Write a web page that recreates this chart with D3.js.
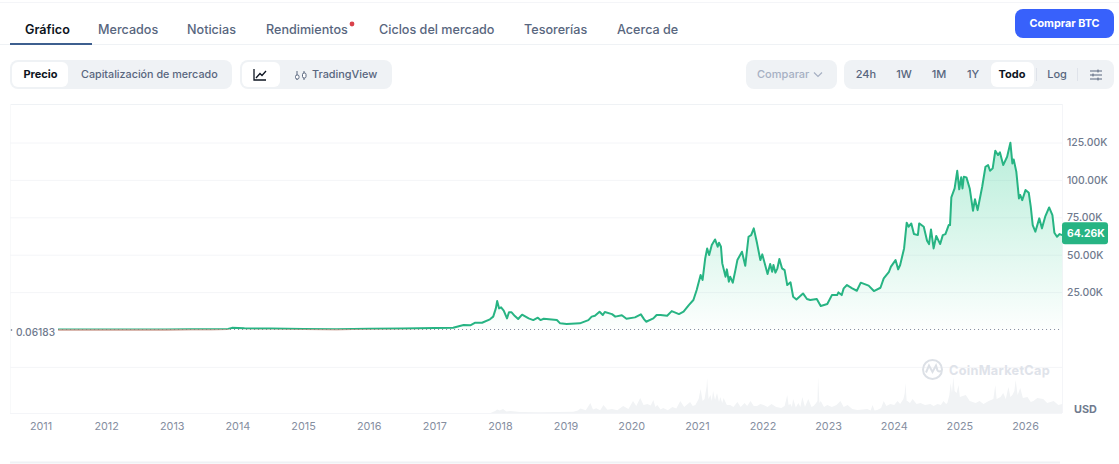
<!DOCTYPE html>
<html>
  <head>
    <meta charset="utf-8">
    <title>Bitcoin</title>
    <style media="screen">
    body{margin: 0; background: #fff}
    svg{display: block}
    text{font-family: Inter, "Noto Sans", sans-serif}
    </style>
  </head>
  <body>
    <script src="https://d3js.org/d3.v7.min.js"></script>
    <script type="text/javascript">
      var w = 1119, h = 464;

      // price in thousands of USD
      var priceYears = [2011.26, 2011.45, 2011.8, 2012.3, 2012.9, 2013.28, 2013.6, 2013.85, 2013.91, 2014.1, 2014.5, 2015, 2015.5, 2016, 2016.5, 2017, 2017.28,
        2017.38, 2017.44, 2017.54, 2017.61, 2017.72, 2017.84, 2017.89, 2017.93, 2017.95, 2017.98, 2018.01, 2018.05, 2018.10, 2018.13, 2018.17, 2018.22, 2018.27, 2018.33, 2018.43, 2018.50, 2018.57, 2018.61, 2018.66, 2018.86, 2018.91,
        2019.01, 2019.21, 2019.34, 2019.39, 2019.44, 2019.51, 2019.56, 2019.59, 2019.70, 2019.75, 2019.85, 2019.92,
        2020.05, 2020.14, 2020.19, 2020.22, 2020.33, 2020.38, 2020.44, 2020.54, 2020.61, 2020.72, 2020.79, 2020.87, 2020.94, 2020.99,
        2021.05, 2021.08, 2021.12, 2021.15, 2021.18, 2021.22, 2021.27, 2021.31, 2021.33, 2021.36, 2021.38, 2021.43, 2021.45, 2021.48, 2021.50, 2021.54, 2021.58, 2021.61, 2021.68, 2021.73, 2021.78, 2021.82, 2021.86, 2021.91, 2021.96, 2021.99,
        2022.07, 2022.11, 2022.14, 2022.16, 2022.19, 2022.22, 2022.25, 2022.29, 2022.33, 2022.37, 2022.42, 2022.46, 2022.51, 2022.61, 2022.67, 2022.72, 2022.82, 2022.88, 2022.98,
        2023.05, 2023.13, 2023.15, 2023.20, 2023.23, 2023.28, 2023.36, 2023.43, 2023.49, 2023.61, 2023.69, 2023.79, 2023.84, 2023.92, 2023.95,
        2024.02, 2024.06, 2024.09, 2024.15, 2024.19, 2024.22, 2024.26, 2024.30, 2024.36, 2024.38, 2024.45, 2024.50, 2024.53, 2024.56, 2024.60, 2024.64, 2024.70, 2024.74, 2024.78, 2024.83, 2024.85, 2024.87, 2024.92, 2024.96, 2024.99,
        2025.02, 2025.04, 2025.06, 2025.10, 2025.15, 2025.20, 2025.23, 2025.27, 2025.34, 2025.39, 2025.43, 2025.46, 2025.50, 2025.54, 2025.58, 2025.61, 2025.66, 2025.72, 2025.77, 2025.80, 2025.82, 2025.86, 2025.90, 2025.92, 2025.95,
        2026.0, 2026.05, 2026.08, 2026.11, 2026.15, 2026.21, 2026.25, 2026.30, 2026.36, 2026.41, 2026.44, 2026.48, 2026.52, 2026.56];
      var priceValues = [0.02, 0.03, 0.01, 0.02, 0.02, 0.14, 0.1, 0.4, 1.1, 0.8, 0.6, 0.3, 0.25, 0.43, 0.65, 0.95, 1.2,
        2.3, 3, 2.8, 4.5, 4.5, 6.8, 8.6, 14.1, 19, 14.1, 14.8, 12.6, 7.4, 11.5, 11.5, 9, 7, 9.9, 7.4, 6.3, 7.9, 6.3, 7.2, 6.3, 4.1,
        3.7, 4.1, 6.3, 8.6, 9.2, 11.9, 9.7, 11.7, 10.3, 8.6, 9.5, 7.2,
        8.1, 10.1, 6.8, 5.2, 7.4, 9.7, 9.7, 9.2, 12.3, 10.3, 11.9, 16.3, 19.7, 26.4,
        36.4, 33.1, 47.5, 54.2, 49.8, 56.5, 60.2, 55.3, 58, 55.3, 44.2, 35.3, 40.2, 32, 35.3, 31.3, 39.7, 46.4, 52, 42.6, 62, 63.1, 67.6, 57.6, 46.4, 50.2,
        37.1, 43.8, 38.6, 43.1, 38, 40.9, 47.1, 40.9, 39.7, 29.7, 31.5, 21.9, 20.1, 24.1, 20.4, 19.7, 20.4, 15.7, 17,
        23, 23, 24.8, 23, 27.5, 29.7, 27.5, 25.9, 31.3, 29.3, 25.7, 27.9, 34.2, 38.6, 42,
        46.4, 40.2, 43.1, 54.2, 71.4, 68.7, 70.9, 63.8, 63.1, 70.9, 68.7, 59.3, 57.1, 66.9, 54.2, 62.5, 57.1, 63.1, 63.8, 69.8, 69.8, 88.3, 94.3, 106.1, 93.7,
        101.7, 94.3, 102.1, 101.7, 94.3, 79.4, 87, 79.8, 95.4, 108.8, 109.9, 106.1, 107.7, 119.5, 116.6, 118.4, 109.9, 115.5, 124.8, 111, 113.7, 105.5, 87.6, 89.9, 86.5,
        93.2, 91.4, 82.1, 69.8, 65.4, 74.3, 67.6, 75.4, 81.6, 76.5, 64.7, 62, 63.8, 63.1];

      // volume in billions of USD, estimated from the grey spikes at the bottom
      var volumeYears = [2017.85, 2017.92, 2017.95, 2017.99, 2018.04, 2018.09, 2018.15, 2018.3, 2018.61,
        2019.11, 2019.18, 2019.22, 2019.3, 2019.37, 2019.41, 2019.46, 2019.52, 2019.57, 2019.63, 2019.70, 2019.78, 2019.87, 2019.95,
        2020.02, 2020.07, 2020.13, 2020.18, 2020.24, 2020.29, 2020.33, 2020.36, 2020.39, 2020.44, 2020.48, 2020.55, 2020.62, 2020.68, 2020.74, 2020.8, 2020.89, 2020.93, 2020.97,
        2021.02, 2021.05, 2021.08, 2021.11, 2021.14, 2021.15, 2021.17, 2021.20, 2021.22, 2021.24, 2021.27, 2021.30, 2021.33, 2021.35, 2021.38, 2021.40, 2021.45, 2021.50, 2021.55, 2021.61, 2021.66, 2021.72, 2021.76, 2021.81, 2021.86, 2021.91, 2021.96,
        2022.01, 2022.07, 2022.13, 2022.20, 2022.28, 2022.33, 2022.37, 2022.39, 2022.42, 2022.44, 2022.46, 2022.50, 2022.54, 2022.57, 2022.60, 2022.64, 2022.69, 2022.74, 2022.77, 2022.81, 2022.83, 2022.84, 2022.86, 2022.88, 2022.93, 2022.98,
        2023.05, 2023.12, 2023.18, 2023.23, 2023.29, 2023.36, 2023.44, 2023.52, 2023.59, 2023.64, 2023.67, 2023.70, 2023.74, 2023.80, 2023.84, 2023.88, 2023.94,
        2024.0, 2024.05, 2024.09, 2024.14, 2024.16, 2024.17, 2024.19, 2024.20, 2024.24, 2024.28, 2024.34, 2024.40, 2024.47, 2024.55, 2024.60, 2024.66, 2024.71, 2024.75, 2024.79, 2024.81, 2024.84, 2024.86, 2024.88, 2024.90, 2024.92, 2024.95, 2024.98,
        2025.0, 2025.09, 2025.15, 2025.24, 2025.3, 2025.36, 2025.44, 2025.51, 2025.54, 2025.56, 2025.62, 2025.66, 2025.70, 2025.74, 2025.77, 2025.80, 2025.83, 2025.85, 2025.88, 2025.92, 2025.96,
        2026.03, 2026.08, 2026.12, 2026.18, 2026.27, 2026.33, 2026.43, 2026.5, 2026.56];
      var volumeValues = [0, 10, 18, 12, 20, 8, 10, 5, 4,
        6, 12, 22, 14, 50, 18, 24, 14, 40, 16, 20, 14, 35, 20,
        60, 35, 75, 40, 45, 38, 65, 30, 40, 18, 25, 14, 30, 22, 60, 30, 55, 35, 40,
        70, 120, 60, 70, 130, 175, 70, 90, 60, 110, 65, 100, 55, 80, 50, 75, 40, 40, 30, 55, 30, 50, 35, 60, 35, 35, 45,
        40, 30, 45, 30, 25, 35, 90, 40, 45, 30, 70, 28, 50, 30, 80, 30, 70, 30, 35, 50, 60, 180, 50, 60, 30, 40,
        30, 40, 60, 30, 40, 20, 15, 18, 20, 12, 40, 12, 15, 25, 60, 35, 45,
        40, 60, 45, 70, 100, 150, 60, 60, 50, 70, 45, 50, 40, 45, 35, 45, 40, 60, 45, 50, 90, 150, 100, 180, 110, 100, 140,
        80, 90, 60, 50, 60, 45, 60, 70, 140, 70, 80, 100, 70, 130, 80, 90, 110, 165, 90, 125, 75,
        80, 55, 60, 75, 70, 50, 60, 40, 45];

      var priceTicks = [25, 50, 75, 100, 125];
      var gridTicks = [-25, 25, 50, 75, 100, 125];
      var yearTicks = d3.range(2011, 2027);
      var lastPrice = 64.26;
      var firstPrice = 0.06183 / 1000;

      var tabs = ['Gráfico', 'Mercados', 'Noticias', 'Rendimientos', 'Ciclos del mercado', 'Tesorerías', 'Acerca de'];
      var tabStarts = [25, 98, 187, 266, 379, 524, 617];
      var ranges = ['24h', '1W', '1M', '1Y', 'Todo', 'Log'];
      var rangeCenters = [866, 904, 939, 973, 1012, 1057];

      var green = '#27b483', red = '#ea3943', grey = '#58667e', soft = '#6f7a8e', panel = '#eff2f5', faint = '#f4f5f8';

      var x = d3.scaleLinear().domain([2011, 2026]).range([41, 1025.5]);
      var y = d3.scaleLinear().domain([0, 125]).range([329.5, 142.5]);
      var yVol = d3.scaleLinear().domain([0, 180]).range([413, 377]);

      var svg = d3.select('body').append('svg')
        .attr('width', w)
        .attr('height', h)

      function box(x0, y0, x1, y1, fill, r){
        return svg.append('rect')
          .attr('x', x0).attr('y', y0)
          .attr('width', x1 - x0).attr('height', y1 - y0)
          .attr('rx', r).attr('fill', fill)
      }
      function rule(x0, y0, x1, y1, color, width){
        return svg.append('line')
          .attr('x1', x0).attr('y1', y0).attr('x2', x1).attr('y2', y1)
          .attr('stroke', color).attr('stroke-width', width)
      }
      function label(str, px, py, size, weight, color, anchor){
        return svg.append('text')
          .attr('x', px).attr('y', py)
          .attr('dominant-baseline', 'central')
          .attr('text-anchor', anchor || 'start')
          .attr('font-size', size).attr('font-weight', weight)
          .attr('fill', color)
          .text(str)
      }
      function icon(d, color, width){
        return svg.append('path').attr('d', d).attr('fill', 'none')
          .attr('stroke', color).attr('stroke-width', width)
      }

      // header
      rule(0, 2.5, w, 2.5, faint, 1)
      rule(0, 44.5, w, 44.5, panel, 1)
      rule(10, 44, 92, 44, '#3d5f8f', 2)
      tabs.forEach(function(t, i){
        label(t, tabStarts[i], 29, 12.6, i == 0 ? 600 : 500, i == 0 ? '#0d1421' : grey)
      })
      svg.append('circle').attr('cx', 352).attr('cy', 24).attr('r', 2.4).attr('fill', '#d9414b')

      box(1015, 9, 1114, 38, '#3861fb', 8)
      label('Comprar BTC', 1064.5, 23, 10.8, 700, '#fff', 'middle')

      // toolbar
      box(10, 60, 232, 89, panel, 8)
      box(12, 62, 68, 87, '#fff', 6)
      label('Precio', 40.5, 74, 11, 700, '#0d1421', 'middle')
      label('Capitalización de mercado', 81, 74, 10.75, 500, grey)

      box(240, 60, 392, 89, panel, 8)
      box(242, 62, 280, 87, '#fff', 6)
      icon('M254 69V80H266M256 78L260 73.5L262 75.5L266 71', '#0d1421', 1.3)
      icon('M297 71V80M304 71V80', grey, 1)
      svg.append('rect').attr('x', 295.5).attr('y', 75).attr('width', 3.5).attr('height', 4).attr('rx', 1.5)
        .attr('fill', '#fff').attr('stroke', grey)
      svg.append('rect').attr('x', 302.5).attr('y', 73).attr('width', 3.5).attr('height', 5).attr('rx', 1.5)
        .attr('fill', '#fff').attr('stroke', grey)
      label('TradingView', 312, 74, 10.9, 500, grey)

      box(746, 60, 837, 89, panel, 8)
      label('Comparar', 757, 74, 11, 500, '#a6b0c3')
      icon('M814 72.5L818 76.5L822 72.5', '#a6b0c3', 1.2)

      box(844, 60, 1114, 89, panel, 8)
      box(991, 62, 1034, 87, '#fff', 6)
      ranges.forEach(function(t, i){
        label(t, rangeCenters[i], 74, 11, t == 'Todo' ? 700 : 500, t == 'Todo' ? '#0d1421' : grey, 'middle')
      })
      rule(1036.5, 68, 1036.5, 81, '#dfe3ea', 1)
      rule(1077.5, 68, 1077.5, 81, '#dfe3ea', 1)
      icon('M1090 71H1102M1090 75H1102M1090 79H1102M1098 69.5V72.5M1093 73.5V76.5M1098 77.5V80.5', grey, 1)

      // chart frame
      rule(10, 104.5, 1062, 104.5, panel, 1)
      rule(1062.5, 104, 1062.5, 413, faint, 1)
      rule(10.5, 104, 10.5, 413, '#f8f9fa', 1)
      rule(10, 413.5, 1062, 413.5, faint, 1)
      rule(10, 462.5, 1060, 462.5, panel, 2)

      // grid through the axis tick lines
      var gridG = svg.append('g').attr('transform', 'translate(1062,0)')
        .call(d3.axisLeft(y).tickValues(gridTicks).tickSize(1052).tickFormat(''))
      gridG.select('.domain').remove()
      gridG.selectAll('line').attr('stroke', faint)

      // volume
      var volumeData = volumeYears.map(function(d, i){ return {x: d, v: volumeValues[i]} })
      svg.append('path').datum(volumeData)
        .attr('fill', '#f1f3f5')
        .attr('d', d3.area()
          .x(function(d){ return x(d.x) })
          .y0(yVol(0))
          .y1(function(d){ return yVol(d.v) }))

      // watermark
      icon('M926 372.5L929 365.5L932.5 372L936 365.5L937.5 370.5Q938.5 372 941 371', '#dce0e6', 2)
      svg.append('circle').attr('cx', 932.5).attr('cy', 369.5).attr('r', 9.5)
        .attr('fill', 'none').attr('stroke', '#dce0e6').attr('stroke-width', 2)
      label('CoinMarketCap', 949, 370.5, 12.7, 700, '#dfe3ea').attr('letter-spacing', 0.3)

      // price
      var priceData = priceYears.map(function(d, i){ return {x: d, v: priceValues[i]} })

      var defs = svg.append('defs')
      var grad = defs.append('linearGradient').attr('id', 'fillUp')
        .attr('gradientUnits', 'userSpaceOnUse')
        .attr('x1', 0).attr('y1', y(125)).attr('x2', 0).attr('y2', y(0))
      grad.append('stop').attr('offset', 0).attr('stop-color', '#16c784').attr('stop-opacity', 0.3)
      grad.append('stop').attr('offset', 1).attr('stop-color', '#16c784').attr('stop-opacity', 0.01)

      defs.append('clipPath').attr('id', 'above').append('rect')
        .attr('x', 10).attr('y', 104).attr('width', 1052).attr('height', y(firstPrice) - 104)
      defs.append('clipPath').attr('id', 'below').append('rect')
        .attr('x', 10).attr('y', y(firstPrice)).attr('width', 1052).attr('height', 30)

      svg.append('path').datum(priceData)
        .attr('fill', 'url(#fillUp)')
        .attr('d', d3.area()
          .x(function(d){ return x(d.x) })
          .y0(y(0))
          .y1(function(d){ return y(d.v) }))

      var line = d3.line()
        .x(function(d){ return x(d.x) })
        .y(function(d){ return y(d.v) })

      rule(x(priceYears[0]), y(firstPrice), 1062, y(firstPrice), '#808a9d', 1).attr('stroke-dasharray', '1,3')

      svg.append('path').datum(priceData)
        .attr('fill', 'none').attr('stroke', green).attr('stroke-width', 2)
        .attr('stroke-linejoin', 'round')
        .attr('clip-path', 'url(#above)')
        .attr('d', line)
      svg.append('path').datum(priceData)
        .attr('fill', 'none').attr('stroke', '#b5705f').attr('stroke-width', 2)
        .attr('stroke-linejoin', 'round')
        .attr('clip-path', 'url(#below)')
        .attr('d', line)

      // axes
      var yAxis = svg.append('g').attr('transform', 'translate(1067,0)')
        .call(d3.axisRight(y).tickValues(priceTicks).tickSize(0).tickPadding(0)
          .tickFormat(function(d){ return d3.format('.2f')(d) + 'K' }))
      yAxis.select('.domain').remove()
      yAxis.selectAll('text')
        .attr('font-family', null).attr('font-size', 10.4).attr('font-weight', 500).attr('fill', soft)

      var xAxis = svg.append('g').attr('transform', 'translate(0,419)')
        .call(d3.axisBottom(x).tickValues(yearTicks).tickSize(0).tickPadding(3).tickFormat(d3.format('d')))
      xAxis.select('.domain').remove()
      xAxis.selectAll('text')
        .attr('font-family', null).attr('font-size', 10.8).attr('font-weight', 400).attr('fill', '#858e9f')
        .attr('dx', -0.5)

      // labels on the axes
      box(1062, y(lastPrice) - 11, 1108, y(lastPrice) + 11, green, 3)
      label(lastPrice.toFixed(2) + 'K', 1067, y(lastPrice), 10.4, 700, '#fff')
      label(String(0.06183), 16, 332, 10.2, 500, soft)
      svg.append('circle').attr('cx', 11.5).attr('cy', 330).attr('r', 0.8).attr('fill', grey)
      label('USD', 1074, 409, 10.8, 700, soft)
    </script>
  </body>
</html>
